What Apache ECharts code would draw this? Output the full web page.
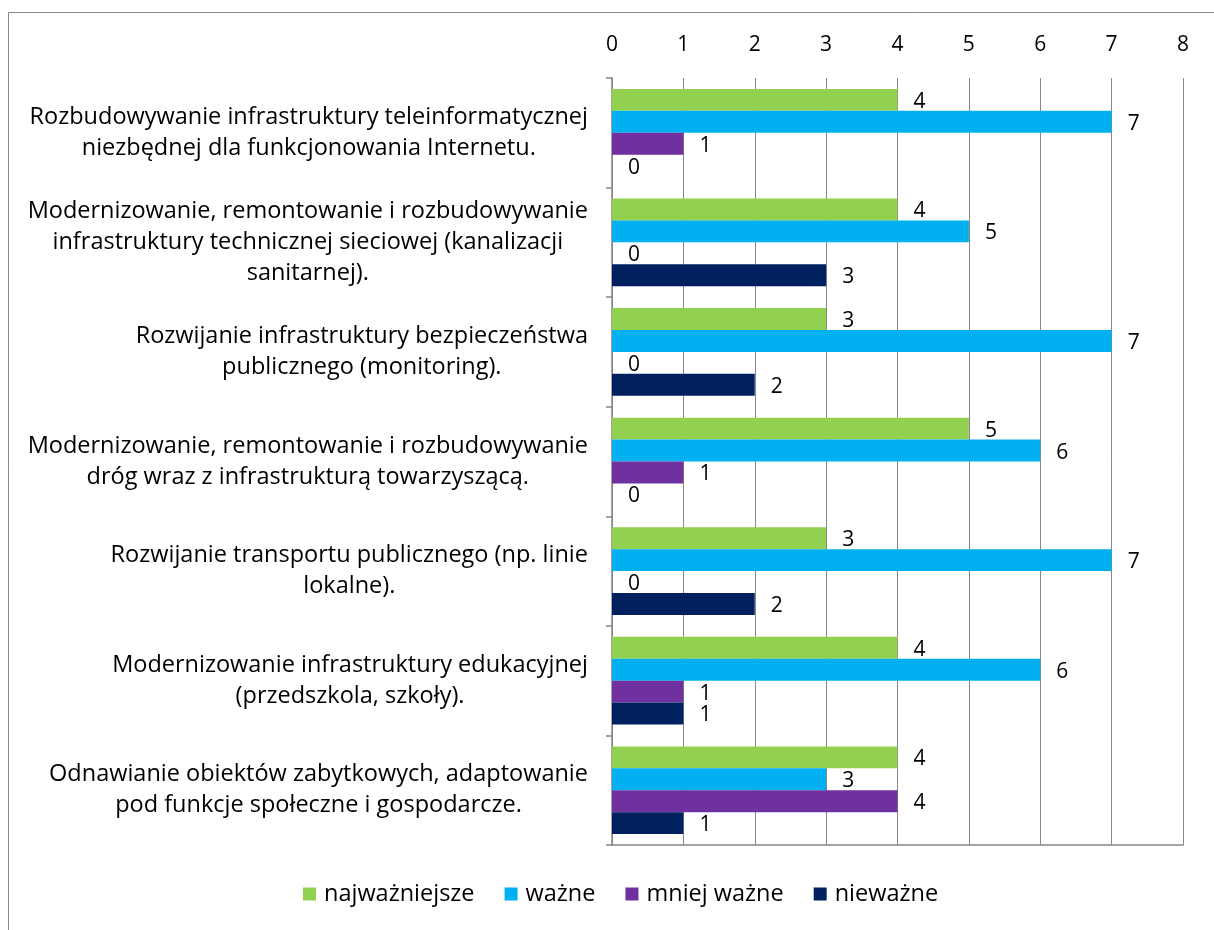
<!DOCTYPE html>
<html>
<head>
<meta charset="utf-8">
<script src="https://cdn.jsdelivr.net/npm/echarts@6/dist/echarts.min.js"></script>
<style>
    html, body { margin: 0; padding: 0; background: #fff; }
    #chart { width: 1214px; height: 930px; }
</style>
</head>
<body>
<div id="chart"></div>
<script type="text/javascript">
    // kategorie (od góry do dołu)
    var categories = [
        'Rozbudowywanie infrastruktury teleinformatycznej\nniezbędnej dla funkcjonowania Internetu.',
        'Modernizowanie, remontowanie i rozbudowywanie\ninfrastruktury technicznej sieciowej (kanalizacji\nsanitarnej).',
        'Rozwijanie infrastruktury bezpieczeństwa\npublicznego (monitoring).',
        'Modernizowanie, remontowanie i rozbudowywanie\ndróg wraz z infrastrukturą towarzyszącą.',
        'Rozwijanie transportu publicznego (np. linie\nlokalne).',
        'Modernizowanie infrastruktury edukacyjnej\n(przedszkola, szkoły).',
        'Odnawianie obiektów zabytkowych, adaptowanie\npod funkcje społeczne i gospodarcze.'
    ];
    var seriesNames = ['najważniejsze', 'ważne', 'mniej ważne', 'nieważne'];
    var najwazniejsze = [4, 4, 3, 5, 3, 4, 4];
    var wazne = [7, 5, 7, 6, 7, 6, 3];
    var mniejWazne = [1, 0, 0, 1, 0, 1, 4];
    var niewazne = [0, 3, 2, 0, 2, 1, 1];
    var xTicks = [0, 1, 2, 3, 4, 5, 6, 7, 8];

    var colors = ['#92D050', '#00B0F0', '#7030A0', '#002060'];
    var values = [najwazniejsze, wazne, mniejWazne, niewazne];
    var font = 'Open Sans';
    var textSize = 23.5;   // opisy kategorii i legenda
    var numSize = 21;      // liczby

    var series = [];
    for (var i = 0; i < seriesNames.length; i++) {
        series.push({
            name: seriesNames[i],
            type: 'bar',
            data: values[i],
            barGap: '0%',
            barCategoryGap: '20%',
            itemStyle: { color: colors[i] },
            label: {
                show: true,
                position: 'right',
                distance: 16,
                offset: [0, 2],
                color: '#000',
                fontFamily: font,
                fontSize: numSize
            }
        });
    }

    var option = {
        animation: false,
        color: colors,
        graphic: [{
            type: 'rect',
            shape: { x: 8.5, y: 12.5, width: 1220, height: 940 },
            style: { fill: 'none', stroke: '#878787', lineWidth: 1 },
            silent: true
        }],
        grid: { left: 612, right: 31, top: 78, bottom: 85 },
        legend: {
            bottom: 19,
            left: 298,
            itemWidth: 13,
            itemHeight: 13,
            itemGap: 30,
            icon: 'rect',
            textStyle: { fontFamily: font, fontSize: textSize, color: '#000', padding: [0, 0, 0, 3] },
            data: seriesNames
        },
        xAxis: [{
            type: 'value',
            position: 'top',
            min: 0,
            max: 8,
            interval: 1,
            axisLine: { show: false },
            axisTick: { show: false },
            axisLabel: {
                margin: 22,
                fontFamily: font,
                fontSize: numSize,
                color: '#000',
                formatter: function (v) { return xTicks.indexOf(v) >= 0 ? String(v) : ''; }
            },
            splitLine: { show: true, lineStyle: { color: '#868686', width: 1 } }
        }, {
            type: 'value',
            position: 'bottom',
            min: 0,
            max: 8,
            interval: 1,
            axisLine: { show: true, onZero: false, lineStyle: { color: '#868686', width: 1.5 } },
            axisTick: { show: false },
            axisLabel: { show: false },
            splitLine: { show: false }
        }],
        yAxis: {
            type: 'category',
            inverse: true,
            data: categories,
            axisLine: { show: true, lineStyle: { color: '#868686', width: 1.5 } },
            axisTick: { show: true, length: 6, lineStyle: { color: '#868686', width: 1.5 } },
            axisLabel: {
                margin: 24,
                align: 'right',
                fontFamily: font,
                fontSize: textSize,
                lineHeight: 31,
                color: '#000',
                formatter: function (v) {
                    return v.split('\n').map(function (s) { return '{c|' + s + '}'; }).join('\n');
                },
                rich: {
                    c: { align: 'center', fontFamily: font, fontSize: textSize, lineHeight: 31, color: '#000' }
                }
            }
        },
        series: series
    };

    var myChart = echarts.init(document.getElementById('chart'));
    myChart.setOption(option);
</script>
</body>
</html>
